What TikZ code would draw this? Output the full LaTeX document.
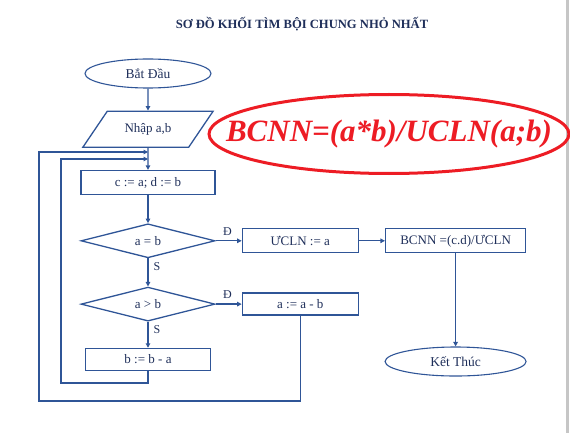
\documentclass[tikz,border=0pt]{standalone}
\usepackage{fontspec}
\setmainfont{Liberation Serif}
\usetikzlibrary{shapes.geometric, arrows.meta, positioning}
\definecolor{flowblue}{HTML}{2F5597}
\definecolor{inkblue}{HTML}{1F2F5A}
\definecolor{markred}{HTML}{ED1C24}
\tikzstyle{block} = [draw=flowblue, rectangle, line width=1.3pt,
    minimum height=24pt, text=inkblue, inner sep=2pt, font=\fontsize{13}{14}\selectfont]
\tikzstyle{decision} = [draw=flowblue, diamond, aspect=3.94, line width=1.3pt,
    minimum width=134pt, minimum height=34pt, inner sep=0pt, text=inkblue,
    font=\fontsize{13}{14}\selectfont]
\tikzstyle{terminal} = [draw=flowblue, ellipse, line width=1.1pt,
    minimum height=29pt, text=inkblue, font=\fontsize{13.5}{14}\selectfont]
\tikzstyle{io} = [draw=flowblue, trapezium, trapezium left angle=49,
    trapezium right angle=131, trapezium stretches, line width=1.3pt,
    minimum width=131pt, minimum height=36pt, text=inkblue,
    font=\fontsize{13}{14}\selectfont]
\tikzstyle{line} = [draw=flowblue, line width=1.3pt, -{Triangle[length=4.5pt,width=4.5pt]}]
\tikzstyle{branch} = [text=inkblue, font=\fontsize{12}{13}\selectfont, inner sep=2pt]

\begin{document}
\begin{tikzpicture}[x=1pt, y=-1pt]
    \useasboundingbox (0,0) rectangle (570,433);
    % page edge of the screenshot
    \fill[gray!45] (566,0) rectangle (569,433);

    \node [text=inkblue, font=\bfseries\fontsize{12.6}{14}\selectfont] (title) at (302,24)
        {SƠ ĐỒ KHỐI TÌM BỘI CHUNG NHỎ NHẤT};

    % main column
    \node [terminal, minimum width=126pt] (start) at (148,73.5) {Bắt Đầu};
    \node [io] (input) [below=22pt of start] {Nhập a,b};
    \node [block, minimum width=134pt] (init) [below=22pt of input] {c := a; d := b};
    \node [decision] (equal) [below=28pt of init] {a = b};
    \node [decision] (greater) [below=28pt of equal] {a > b};
    \node [block, minimum width=125pt, minimum height=22pt] (subb) [below=26pt of greater] {b := b - a};

    % right side
    \node [block, minimum width=116pt] (ucln) [right=26pt of equal] {ƯCLN := a};
    \node [block, minimum width=140pt] (bcnn) [right=26pt of ucln] {BCNN =(c.d)/ƯCLN};
    \node [block, minimum width=116pt, minimum height=22pt] (suba) [right=26pt of greater] {a := a - b};
    \node [terminal, minimum width=141pt] (finish) [below=93pt of bcnn] {Kết Thúc};

    % the formula
    \node [text=markred, font=\bfseries\itshape\fontsize{31}{34}\selectfont] (formula) at (389,134)
        {BCNN=(a*b)/UCLN(a;b)};
    \draw [markred, line width=3pt] (formula.center) ellipse [x radius=180pt, y radius=39.5pt];

    % loop corners
    \coordinate (outerL) at (39,401);
    \coordinate (outerIn) at (148,152);
    \coordinate (innerL) at (61,383);
    \coordinate (innerIn) at (148,159);

    % connections
    \draw [line] (start) -- (input);
    \draw [line] (input) -- (init);
    \draw [line] (init) -- (equal);
    \draw [line] (equal) -- node [branch, above, pos=0.45, yshift=3pt] {Đ} (ucln);
    \draw [line] (ucln) -- (bcnn);
    \draw [line] (bcnn) -- (finish);
    \draw [line] (equal) -- node [branch, right, pos=0.3, xshift=3pt] {S} (greater);
    \draw [line] (greater) -- node [branch, above, pos=0.45, yshift=3pt] {Đ} (suba);
    \draw [line] (greater) -- node [branch, right, pos=0.3, xshift=3pt] {S} (subb);
    \draw [line] (suba.south) |- (outerL) |- (outerIn);
    \draw [line] (subb.south) |- (innerL) |- (innerIn);
\end{tikzpicture}
\end{document}
